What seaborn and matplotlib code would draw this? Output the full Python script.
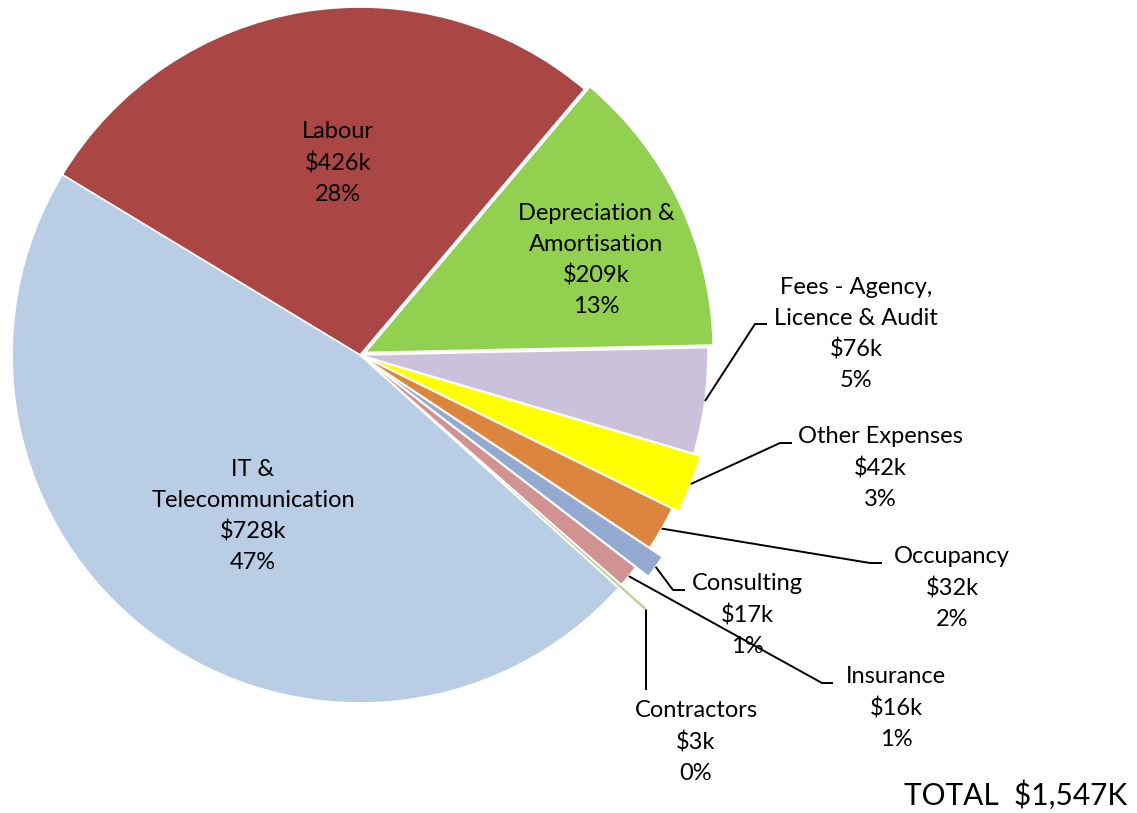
import numpy as np
import seaborn as sns
import matplotlib.pyplot as plt

categories = ["Labour", "Depreciation &\nAmortisation", "Fees - Agency,\nLicence & Audit",
              "Other Expenses", "Occupancy", "Consulting", "Insurance", "Contractors",
              "IT &\nTelecommunication"]
values_k = [426, 209, 76, 42, 32, 17, 16, 3, 728]
total_label = "TOTAL  $1,547K"

colors = ["#AA4644", "#92D050", "#CCC1DA", "#FFFF00", "#DC853E",
          "#94A9CF", "#D19392", "#BCD197", "#B9CDE5"]
explode = [0, 0.017, 0, 0.02, 0, 0.045, 0, 0.1, 0]

sns.set_theme(style="white")
plt.rcParams["font.family"] = ["Lato", "DejaVu Sans"]

W, H = 1137, 813
fig = plt.figure(figsize=(W / 100, H / 100), dpi=100)
ax = fig.add_axes([0, 0, 1, 1])

cx, cy, R = 360, H - 355, 348
start = 148.8

# pie's explode is in data units, so scale the fractions by the radius
wedges, _ = ax.pie(values_k, colors=colors, explode=[e * R for e in explode],
                   startangle=start, counterclock=False, radius=R, center=(cx, cy),
                   wedgeprops=dict(edgecolor="white", linewidth=1.2))
ax.set_xlim(0, W)
ax.set_ylim(0, H)
ax.set_aspect("equal")
ax.axis("off")

total = sum(values_k)
labels = [f"{c}\n${v}k\n{v / total:.0%}" for c, v in zip(categories, values_k)]

# label block centres (pixels from top-left)
label_pos = [(338, 163), (596, 260), (856, 334), (880, 468), (952, 588),
             (747, 615), (896, 708), (696, 742), (253, 516)]
# leader line knees / ends (None = label sits on the slice)
leaders = [None, None, [(755, 324), (767, 324)], [(780, 443), (792, 443)],
           [(870, 563), (882, 563)], [(673, 590), (685, 590)],
           [(822, 683), (833, 683)], [(646, 690)], None]

for i, (lab, (px, py)) in enumerate(zip(labels, label_pos)):
    ax.text(px, H - py, lab, ha="center", va="center", multialignment="center",
            fontsize=17, linespacing=1.55, color="black")
    if leaders[i] is not None:
        w = wedges[i]
        mid = np.deg2rad((w.theta1 + w.theta2) / 2)
        wx, wy = w.center
        sx, sy = wx + w.r * np.cos(mid), wy + w.r * np.sin(mid)
        xs = [sx] + [p[0] for p in leaders[i]]
        ys = [sy] + [H - p[1] for p in leaders[i]]
        ax.plot(xs, ys, color="black", linewidth=1.4, solid_capstyle="butt")

ax.text(1127, H - 795, total_label, ha="right", va="center", fontsize=21.5, color="black")

fig.savefig("out.png", dpi=100)
